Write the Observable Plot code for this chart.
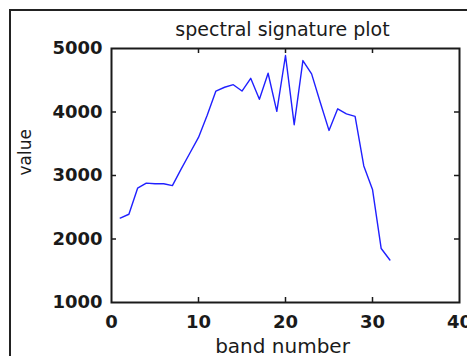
<!DOCTYPE html>
<html>
<head>
<meta charset="utf-8">
<script src="https://cdn.jsdelivr.net/npm/d3@7"></script>
<script src="https://cdn.jsdelivr.net/npm/@observablehq/plot@0.6"></script>
<style>
  html, body { margin: 0; padding: 0; background: #fff; overflow: hidden; }
  #wrap { position: relative; width: 467px; height: 356px; overflow: hidden; }
  #outer { position: absolute; left: 9px; top: 9px; width: 600px; height: 500px; border-left: 2px solid #222; border-top: 2px solid #222; pointer-events: none; }
  svg { display: block; }
</style>
</head>
<body>
<div id="wrap"><div id="chart"></div><div id="outer"></div></div>
<script>
const titleText = "spectral signature plot";
const xLabel = "band number";
const yLabel = "value";
const bands = [1,2,3,4,5,6,7,8,9,10,11,12,13,14,15,16,17,18,19,20,21,22,23,24,25,26,27,28,29,30,31,32];
const values = [2330,2390,2800,2880,2870,2870,2840,3100,3350,3600,3950,4330,4390,4430,4330,4530,4200,4610,4010,4890,3800,4810,4600,4150,3710,4050,3970,3930,3150,2780,1850,1670];
const xTicks = [0,10,20,30,40];
const yTicks = [1000,2000,3000,4000,5000];
const xInner = [10,20,30];
const yInner = [2000,3000,4000];

const data = bands.map((b, i) => ({band: b, value: values[i]}));
const ink = "#1a1a1a";

const chart = Plot.plot({
  width: 467,
  height: 356,
  marginLeft: 111,
  marginRight: 8,
  marginTop: 48,
  marginBottom: 54,
  style: {fontFamily: "'DejaVu Sans', sans-serif", background: "#fff", color: ink, overflow: "visible"},
  x: {domain: [0, 40], ticks: xTicks},
  y: {domain: [1000, 5000], ticks: yTicks},
  marks: [
    Plot.axisX(xTicks, {anchor: "bottom", tickSize: 0, tickPadding: 13, fontSize: 18, fontWeight: "bold", label: null, fill: ink, tickFormat: d3.format("d")}),
    Plot.axisY(yTicks, {anchor: "left", tickSize: 0, tickPadding: 9, fontSize: 18, fontWeight: "bold", label: null, fill: ink, tickFormat: d3.format("d")}),
    Plot.line(data, {x: "band", y: "value", stroke: "#2020ff", strokeWidth: 1.4}),
    Plot.frame({stroke: ink, strokeWidth: 2}),
    Plot.ruleX(xInner, {x: d => d, insetTop: 249, stroke: ink, strokeWidth: 1.5}),
    Plot.ruleX(xInner, {x: d => d, insetBottom: 249, stroke: ink, strokeWidth: 1.5}),
    Plot.ruleY(yInner, {y: d => d, insetRight: 343, stroke: ink, strokeWidth: 1.5}),
    Plot.ruleY(yInner, {y: d => d, insetLeft: 343, stroke: ink, strokeWidth: 1.5}),
    Plot.text([titleText], {text: d => d, frameAnchor: "top", dx: -3, dy: -26, fontSize: 19, fill: ink}),
    Plot.text([xLabel], {text: d => d, frameAnchor: "bottom", dx: -3, dy: 50, fontSize: 20, fill: ink}),
    Plot.text([yLabel], {text: d => d, frameAnchor: "left", dx: -86, rotate: -90, fontSize: 17, fill: ink})
  ]
});
document.getElementById("chart").appendChild(chart);
</script>
</body>
</html>
